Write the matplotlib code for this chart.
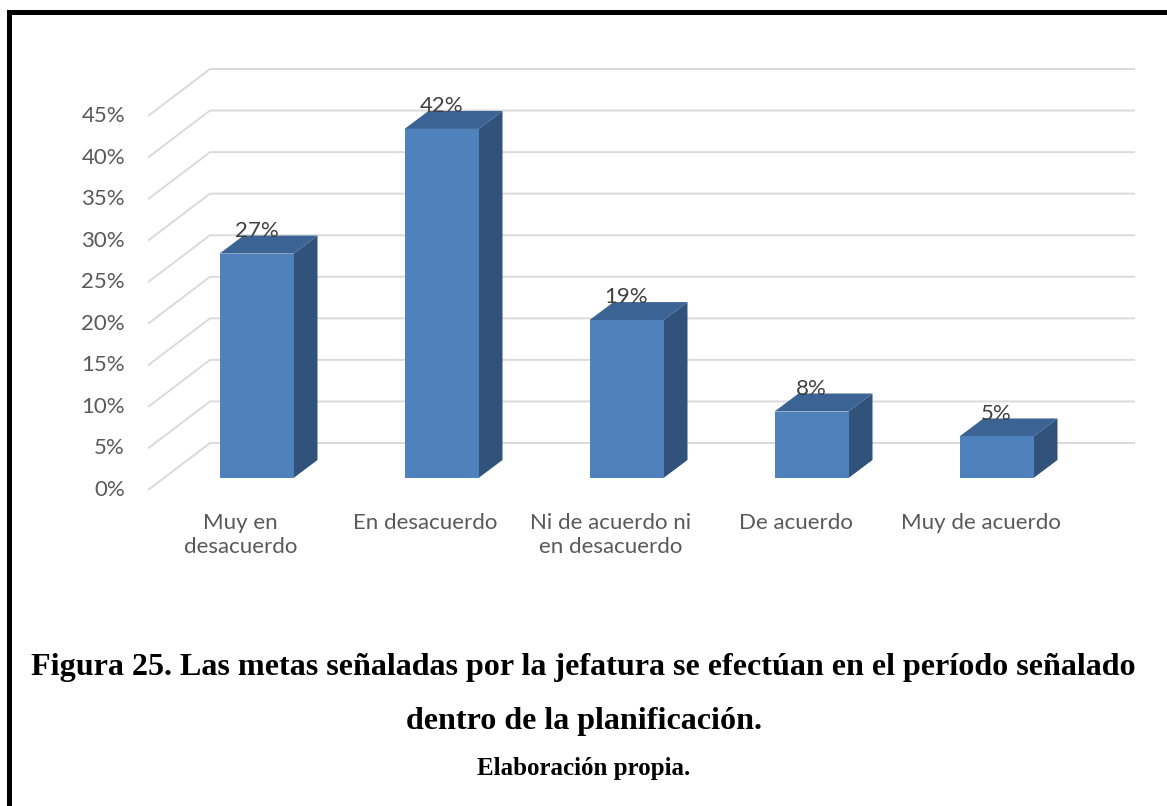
import matplotlib
matplotlib.use("Agg")
import matplotlib.pyplot as plt
from matplotlib.patches import Polygon, Rectangle

# ---- data -------------------------------------------------------------
categories = ["Muy en\ndesacuerdo", "En desacuerdo", "Ni de acuerdo ni\nen desacuerdo",
              "De acuerdo", "Muy de acuerdo"]
values = [27, 42, 19, 8, 5]
value_labels = ["27%", "42%", "19%", "8%", "5%"]
y_ticks = [0, 5, 10, 15, 20, 25, 30, 35, 40, 45]
y_tick_labels = ["0%", "5%", "10%", "15%", "20%", "25%", "30%", "35%", "40%", "45%"]

caption_1 = "Figura 25. Las metas señaladas por la jefatura se efectúan en el período señalado"
caption_2 = "dentro de la planificación."
caption_3 = "Elaboración propia."

# ---- canvas -----------------------------------------------------------
W, H = 1167, 806
fig = plt.figure(figsize=(W / 100, H / 100), dpi=100)
fig.patch.set_facecolor("white")

ax = fig.add_axes([0, 0, 1, 1])
# pixel scale of the front plane of the 3-D box
px_per_cat = 185.0
px_per_pct = (490 - 116) / 45.0
front_left_px = 148
floor_px = H - 490
ax.set_xlim(-0.5 - front_left_px / px_per_cat, -0.5 + (W - front_left_px) / px_per_cat)
ax.set_ylim(-floor_px / px_per_pct, (H - floor_px) / px_per_pct)
ax.axis("off")

# depth of the box (front -> back wall)
DX = 62 / px_per_cat
DY = 47 / px_per_pct
n = len(categories)
x_left, x_right = -0.5, n - 0.5

grid_color = "#dadada"
for t in y_ticks:
    ax.plot([x_left, x_left + DX, x_right + DX], [t, t + DY, t + DY],
            color=grid_color, lw=1.4, zorder=1, solid_capstyle="butt")

# ---- bars drawn as boxes ---------------------------------------------
front_c = "#4f81bd"
side_c = "#31527b"
top_c = "#3b6394"
ox = 16 / px_per_cat          # bar placement inside depth
oy = 12 / px_per_pct
half_w = 37 / px_per_cat
bdx = 24 / px_per_cat         # bar depth
bdy = 18 / px_per_pct

label_font = dict(family="Lato", fontsize=16)

for i, v in enumerate(values):
    xl = i + ox - half_w
    xr = i + ox + half_w
    yb = oy
    yt = oy + v
    front = Polygon([(xl, yb), (xr, yb), (xr, yt), (xl, yt)], closed=True,
                    facecolor=front_c, edgecolor="none", zorder=3)
    side = Polygon([(xr, yb), (xr + bdx, yb + bdy), (xr + bdx, yt + bdy), (xr, yt)],
                   closed=True, facecolor=side_c, edgecolor="none", zorder=3)
    top = Polygon([(xl, yt), (xr, yt), (xr + bdx, yt + bdy), (xl + bdx, yt + bdy)],
                  closed=True, facecolor=top_c, edgecolor="none", zorder=3)
    for p in (side, top, front):
        ax.add_patch(p)
    ax.text(i + ox, yt + bdy - 0.15, value_labels[i], ha="center", va="baseline",
            color="#404040", zorder=4, **label_font)

# ---- axis labels -----------------------------------------------------
for t, lab in zip(y_ticks, y_tick_labels):
    ax.text(x_left - 23 / px_per_cat, t, lab, ha="right", va="center",
            color="#595959", **label_font)

for i, lab in enumerate(categories):
    ax.text(i, -23 / px_per_pct, lab, ha="center", va="top",
            color="#595959", linespacing=1.28, **label_font)

# ---- captions ---------------------------------------------------------
fig.text(0.5, 1 - 667 / H, caption_1, ha="center", va="center", fontsize=23.1,
         fontweight="bold", family="Liberation Serif", color="black")
fig.text(0.5, 1 - 721 / H, caption_2, ha="center", va="center", fontsize=23.1,
         fontweight="bold", family="Liberation Serif", color="black")
fig.text(0.5, 1 - 768 / H, caption_3, ha="center", va="center", fontsize=18,
         fontweight="bold", family="Liberation Serif", color="black")

# ---- frame (left and top rules) --------------------------------------
fig.add_artist(Rectangle((7 / W, 0), 5 / W, (H - 10) / H, transform=fig.transFigure,
                         facecolor="black", edgecolor="none"))
fig.add_artist(Rectangle((7 / W, 1 - 15 / H), (W - 7) / W, 5 / H, transform=fig.transFigure,
                         facecolor="black", edgecolor="none"))

fig.savefig("out.png", dpi=100, facecolor="white")
